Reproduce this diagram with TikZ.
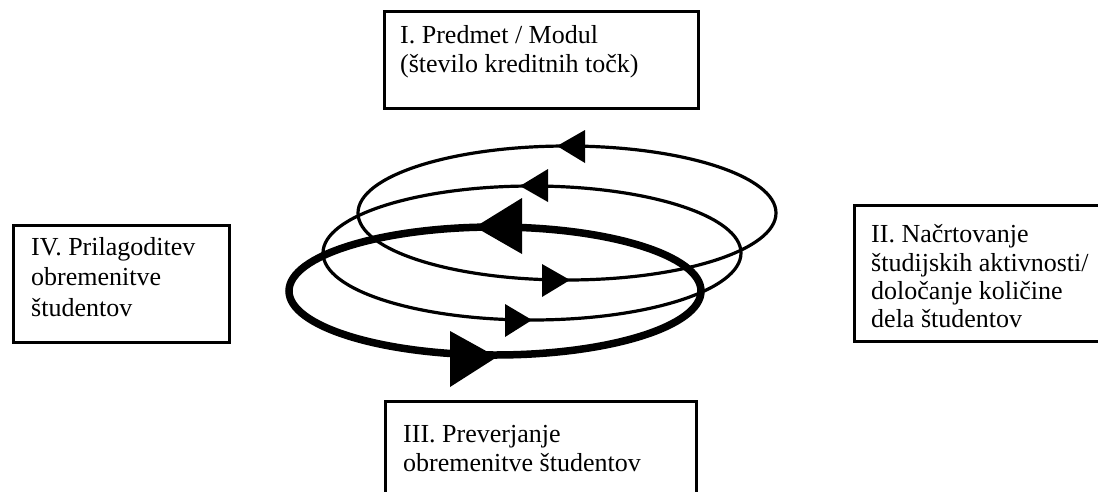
\documentclass[tikz,border=0pt]{standalone}
\usepackage{fontspec}
\setmainfont{Liberation Serif}
\begin{document}
\begin{tikzpicture}[x=1pt,y=-1pt,
  box/.style={draw, line width=2.8pt, inner sep=0pt, anchor=north west},
  lbl/.style={anchor=north west, inner sep=0pt, align=left},
  thinloop/.style={line width=3.2pt},
  thickloop/.style={line width=7.5pt},
  tri/.style={fill=black}]
\useasboundingbox (0,0) rectangle (1098,491);
\clip (0,0) rectangle (1098,491);

% boxes
\node[box, minimum width=314pt, minimum height=97pt]  (b1) at (383,10)  {};
\node[box, minimum width=260pt, minimum height=136pt] (b2) at (853,204) {};
\node[box, minimum width=311pt, minimum height=110pt] (b3) at (384,400) {};
\node[box, minimum width=216pt, minimum height=117pt] (b4) at (12,224)  {};

% labels
\node[lbl, font=\fontsize{26}{29}\selectfont] (t1) at (400,25)
  {I. Predmet / Modul\\(število kreditnih točk)};
\node[lbl, font=\fontsize{26}{28.4}\selectfont] (t2) at (871,224.5)
  {II. Načrtovanje\\študijskih aktivnosti/\\določanje količine\\dela študentov};
\node[lbl, font=\fontsize{26}{29}\selectfont] (t3) at (403,425.5)
  {III. Preverjanje\\obremenitve študentov};
\node[lbl, font=\fontsize{26}{30.5}\selectfont] (t4) at (31,237)
  {IV. Prilagoditev\\obremenitve\\študentov};

% loops
\draw[thinloop]  (567,213) ellipse [x radius=209, y radius=67];
\draw[thinloop]  (532,253) ellipse [x radius=209, y radius=67];
\draw[thickloop] (495,291) ellipse [x radius=206, y radius=64];

% arrowheads
\fill[tri] (557,146) -- (585,130) -- (585,163) -- cycle;
\fill[tri] (570,280) -- (542,264) -- (542,297) -- cycle;
\fill[tri] (520,186) -- (548,169) -- (548,202) -- cycle;
\fill[tri] (532,320) -- (505,304) -- (505,337) -- cycle;
\fill[tri] (475,227) -- (522,198) -- (522,254) -- cycle;
\fill[tri] (497,357) -- (450,331) -- (450,387) -- cycle;
\end{tikzpicture}
\end{document}
